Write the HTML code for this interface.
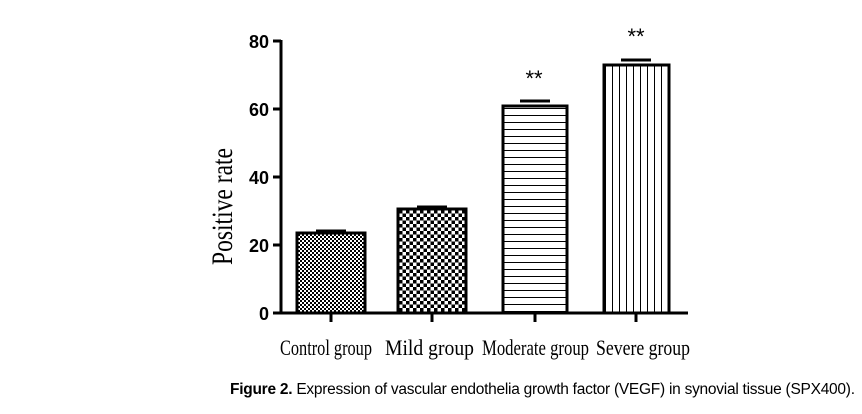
<!DOCTYPE html>
<html><head><style>
body{margin:0;background:#fff;width:862px;height:409px;overflow:hidden}
</style></head><body>
<svg width="862" height="409" xmlns="http://www.w3.org/2000/svg">
<defs>
<pattern id="p1" width="4" height="4" patternUnits="userSpaceOnUse"><rect width="4" height="4" fill="#fff"/><rect width="2" height="2" fill="#000"/><rect x="2" y="2" width="2" height="2" fill="#000"/></pattern>
<pattern id="p2" width="7" height="7" patternUnits="userSpaceOnUse"><rect width="7" height="7" fill="#fff"/><rect width="3.5" height="3.5" fill="#000"/><rect x="3.5" y="3.5" width="3.5" height="3.5" fill="#000"/></pattern>
<pattern id="p3" width="7" height="7" patternUnits="userSpaceOnUse"><rect width="7" height="7" fill="#fff"/><rect y="3" width="7" height="1" fill="#000"/></pattern>
<pattern id="p4" width="7" height="7" patternUnits="userSpaceOnUse"><rect width="7" height="7" fill="#fff"/><rect x="3" width="1" height="7" fill="#000"/></pattern>
</defs>
<g stroke="#000" stroke-width="3">
<line x1="281" y1="40" x2="281" y2="314"/>
<line x1="280" y1="313" x2="688" y2="313"/>
<line x1="273" y1="41" x2="281" y2="41"/>
<line x1="273" y1="109" x2="281" y2="109"/>
<line x1="273" y1="177" x2="281" y2="177"/>
<line x1="273" y1="245" x2="281" y2="245"/>
<line x1="273" y1="313" x2="281" y2="313"/>
<line x1="331" y1="313" x2="331" y2="322"/>
<line x1="432" y1="313" x2="432" y2="322"/>
<line x1="535" y1="313" x2="535" y2="322"/>
<line x1="636" y1="313" x2="636" y2="322"/>
<line x1="316" y1="231" x2="346" y2="231"/>
<line x1="417" y1="207" x2="447" y2="207"/>
<line x1="520" y1="101" x2="550" y2="101"/>
<line x1="621" y1="60" x2="651" y2="60"/>
<rect x="297" y="233" width="68" height="80" fill="url(#p1)"/>
<rect x="398" y="209" width="68" height="104" fill="url(#p2)"/>
<rect x="503" y="106" width="64" height="207" fill="url(#p3)"/>
<rect x="604" y="65" width="65" height="248" fill="url(#p4)"/>
</g>
<g font-family="Liberation Sans, sans-serif" font-weight="bold" font-size="18" text-anchor="end">
<text x="269" y="48">80</text><text x="269" y="116">60</text><text x="269" y="184">40</text><text x="269" y="252">20</text><text x="269" y="320">0</text>
</g>
<g font-family="Liberation Sans, sans-serif" font-size="22" text-anchor="middle">
<text x="534" y="86">**</text><text x="636" y="44">**</text>
</g>
<g font-family="Liberation Serif, serif">
<text transform="translate(232,265) rotate(-90)" font-size="30" textLength="117" lengthAdjust="spacingAndGlyphs">Positive rate</text>
<g font-size="22">
<text x="280" y="355" textLength="92" lengthAdjust="spacingAndGlyphs">Control group</text>
<text x="385" y="355" textLength="89" lengthAdjust="spacingAndGlyphs">Mild group</text>
<text x="482" y="355" textLength="107" lengthAdjust="spacingAndGlyphs">Moderate group</text>
<text x="596" y="355" textLength="94" lengthAdjust="spacingAndGlyphs">Severe group</text>
</g>
</g>
<text x="230" y="394" font-family="Liberation Sans, sans-serif" font-size="15.5" textLength="625"><tspan font-weight="bold">Figure 2.</tspan> Expression of vascular endothelia growth factor (VEGF) in synovial tissue (SPX400).</text>
</svg>
</body></html>
